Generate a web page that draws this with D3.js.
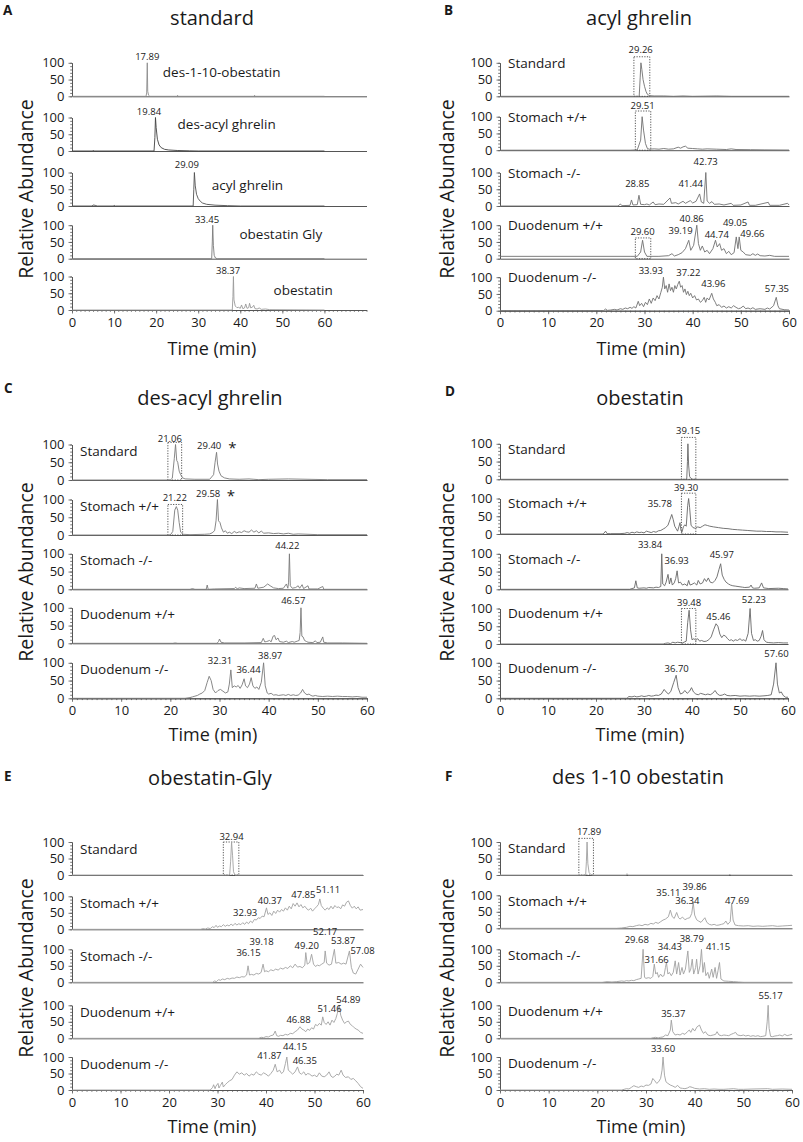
<!DOCTYPE html>
<html>
<head>
<meta charset="utf-8">
<script src="https://cdn.jsdelivr.net/npm/d3@7"></script>
<style>
  body { margin: 0; background: #fff; }
  svg { font-family: "Open Sans", sans-serif; }
</style>
</head>
<body>
<svg id="fig" width="803" height="1142"></svg>
<script>
// ---- text ----
const panelTitles = ["standard", "acyl ghrelin", "des-acyl ghrelin", "obestatin", "obestatin-Gly", "des 1-10 obestatin"];
const sampleNames = ["Standard", "Stomach +/+", "Stomach -/-", "Duodenum +/+", "Duodenum -/-"];
const standardNames = ["des-1-10-obestatin", "des-acyl ghrelin", "acyl ghrelin", "obestatin Gly", "obestatin"];
const xTicks = [0, 10, 20, 30, 40, 50, 60];
const yTicks = [0, 50, 100];

// ---- traces, [time (min), relative abundance] ----
// A: standards
const A_des110 = [[0,0],[17.6,0],[17.75,10],[17.89,100],[18.0,15],[18.2,3],[18.5,0],[25,0],[25.1,3],[25.3,0],[43.3,0],[43.4,3],[43.6,0],[60,0]];
const A_desacyl = [[0,0],[4.9,0],[5,2],[5.2,0],[19.5,0],[19.7,40],[19.84,100],[20.0,70],[20.3,35],[20.7,18],[21.2,10],[22,5],[23,3],[25,1.5],[28,0.5],[30,0],[60,0]];
const A_acyl = [[0,0],[4.8,0],[5,3],[5.5,2],[6,0],[9.8,0],[10,2],[10.3,0],[28.8,0],[28.95,50],[29.09,100],[29.3,60],[29.6,35],[30,22],[30.5,14],[31,9],[32,5],[34,2.5],[37,1],[40,0],[60,0]];
const A_obGly = [[0,0],[33.2,0],[33.35,50],[33.45,100],[33.6,40],[33.8,10],[34.1,2],[34.5,0],[60,0]];
const A_obestatin = [[0,0],[38.1,0],[38.25,40],[38.37,100],[38.5,30],[38.8,12],[39.2,7],[39.6,8],[40,5],[40.3,15],[40.6,4],[41,6],[41.3,18],[41.6,5],[42,7],[42.2,20],[42.5,6],[43,10],[43.2,14],[43.5,4],[44,3],[44.5,6],[45,2],[46,3],[47,1],[60,0]];

// B: acyl ghrelin
const B_std = [[0,0],[28.9,0],[29.1,55],[29.26,100],[29.45,80],[29.7,50],[30,30],[30.3,15],[30.6,6],[31,2],[32,1],[34,1],[36,0],[38,1],[40,0],[45,1],[48,0],[60,0]];
const B_stomWT = [[0,0],[27,0],[28.5,1],[29.2,30],[29.51,100],[29.8,60],[30.2,20],[30.6,5],[31,3],[32,4],[33,3],[34,5],[35,3],[36,4],[37,9],[37.5,6],[38,10],[38.5,12],[39,6],[40,5],[41,4],[42,3],[43,4],[45,3],[47,2],[48,4],[49,2],[52,1.5],[55,1],[60,0.5]];
const B_stomKO = [[0,0],[24.5,0],[25,6],[25.3,1],[27,2],[27.3,18],[27.6,3],[28.5,4],[28.85,32],[29.2,5],[30,4],[30.5,6],[31,3],[31.8,12],[32.2,4],[33,6],[34,5],[35.3,24],[35.6,8],[36.5,10],[37,6],[38,14],[38.5,8],[39.5,16],[40,9],[40.7,14],[41.44,36],[41.8,12],[42.3,8],[42.73,100],[43,15],[43.5,8],[44,13],[44.5,5],[45.5,6],[46.5,3],[48,8],[48.4,2],[50,3],[51.5,12],[51.8,2],[53,2],[55.7,11],[56,2],[58,2],[59.7,8],[60,3]];
const B_duoWT = [[0,7],[27,7],[28.5,7],[29.2,20],[29.6,55],[30,20],[30.5,7],[33,7],[35,9],[35.7,15],[36.2,8],[37,12],[37.8,18],[38.5,30],[39.19,55],[39.6,25],[40.2,40],[40.86,100],[41.2,45],[41.6,25],[42,38],[42.5,20],[43,25],[43.5,15],[44.2,30],[44.74,55],[45.1,35],[45.6,45],[46,25],[46.5,30],[47,15],[47.5,22],[48,12],[48.6,18],[49.05,65],[49.4,30],[49.66,65],[50,25],[50.5,20],[51,12],[52,10],[52.5,15],[53,10],[53.5,14],[54,9],[55,8],[56,10],[57,7],[60,7]];
const B_duoKO = [[0,0],[21.5,0],[21.9,5],[22.3,1],[23,2],[23.8,4],[24.3,2],[25,6],[25.5,4],[26,8],[26.5,6],[27,10],[27.4,7],[27.8,12],[28.2,8],[28.7,28],[29,15],[29.4,22],[29.8,12],[30.2,25],[30.6,18],[31,35],[31.4,22],[31.8,38],[32.2,30],[32.6,45],[33,35],[33.4,55],[33.7,70],[33.93,100],[34.2,65],[34.5,75],[34.8,55],[35.1,80],[35.4,60],[35.7,70],[36,55],[36.3,75],[36.6,65],[36.9,78],[37.22,88],[37.5,70],[37.8,75],[38.1,55],[38.4,65],[38.7,48],[39,58],[39.3,45],[39.6,52],[40,38],[40.4,45],[40.8,32],[41.2,35],[41.6,25],[42,30],[42.4,40],[42.7,25],[43,38],[43.4,32],[43.96,52],[44.3,35],[44.7,25],[45,15],[45.5,18],[46,10],[46.5,14],[47,8],[47.5,12],[48,8],[48.5,15],[49,10],[49.5,6],[50,8],[50.5,14],[51,6],[51.5,8],[52,5],[52.5,9],[53,4],[54,6],[55,4],[55.5,8],[56,5],[56.8,15],[57.35,40],[57.7,15],[58,6],[59,3],[60,2]];

// C: des-acyl ghrelin
const C_std = [[0,0],[20,0],[20.4,5],[20.8,60],[21.06,100],[21.3,55],[21.5,50],[21.8,25],[22.1,15],[22.5,6],[23,3],[25,2],[28,2],[28.8,15],[29.1,50],[29.4,78],[29.6,45],[29.9,25],[30.3,12],[31,6],[32,3],[34,2],[36,3],[37,2],[38,1],[40,2],[44,3],[48,2],[52,1],[60,1]];
const C_stomWT = [[0,0],[20,0],[20.5,10],[20.9,70],[21.22,80],[21.5,70],[21.8,35],[22.1,8],[22.6,2],[24,1],[27,2],[28,3],[28.5,6],[29,12],[29.3,40],[29.58,100],[29.8,40],[30.1,35],[30.4,20],[30.8,8],[31.2,12],[31.6,5],[32,8],[32.5,4],[33,10],[33.5,6],[34,9],[34.5,7],[35,12],[35.5,9],[36,8],[36.5,14],[37,8],[37.5,12],[38,6],[38.5,11],[39,5],[40,6],[41,4],[42,5],[43,3],[44,5],[45,2],[46,3],[48,2],[50,1],[60,1]];
const C_stomKO = [[0,0],[24,0],[24.5,2],[25,0],[27.3,0],[27.5,12],[27.7,0],[29,1],[33,2],[33.3,6],[33.6,1],[34,4],[35,2],[37.2,3],[37.5,15],[37.8,3],[39,6],[39.8,15],[40.3,10],[41,4],[42,2],[43,3],[43.6,15],[43.9,3],[44.05,20],[44.22,100],[44.4,10],[44.8,3],[45.5,5],[46,10],[46.3,3],[46.8,13],[47.1,2],[48,10],[48.2,1],[50,1],[51,8],[51.2,0],[60,0]];
const C_duoWT = [[0,0],[20.5,0],[21,1],[21.5,0],[29.5,0],[29.8,5],[30,12],[30.3,3],[31,1],[35,1],[38.5,2],[38.9,14],[39.2,4],[39.6,5],[40.2,8],[40.5,4],[40.9,20],[41.2,22],[41.5,10],[41.9,15],[42.2,5],[43,3],[43.6,6],[44,2],[44.8,5],[45.2,3],[45.8,6],[46.2,8],[46.4,30],[46.57,100],[46.75,20],[47,18],[47.3,8],[47.7,5],[48,3],[49,2],[49.5,7],[49.8,2],[50.5,3],[51,18],[51.2,3],[52,1],[55,1],[60,0]];
const C_duoKO = [[0,0],[23,0],[24,2],[24.5,4],[25,6],[25.5,8],[26,12],[26.5,15],[27,22],[27.5,45],[27.9,62],[28.3,50],[28.7,25],[29.2,15],[29.7,22],[30.2,25],[30.7,20],[31.2,15],[31.7,18],[32,40],[32.31,80],[32.6,30],[33,35],[33.4,32],[33.8,36],[34.2,28],[34.6,38],[35,55],[35.3,35],[35.7,30],[36.1,40],[36.44,58],[36.8,35],[37.2,28],[37.6,32],[38,25],[38.5,45],[38.97,100],[39.3,35],[39.7,15],[40,12],[40.5,14],[41,9],[41.5,10],[42,8],[43,10],[43.5,8],[44,11],[44.5,8],[45,10],[45.5,8],[46,9],[46.5,15],[46.9,25],[47.3,15],[47.8,10],[48.2,12],[48.6,8],[49,6],[49.5,8],[50,6],[51,5],[52,6],[53,5],[54,6],[55,5],[56,5],[57,4],[58,5],[59,3],[60,3]];

// D: obestatin
const D_std = [[0,0],[38.9,0],[39.05,50],[39.15,100],[39.3,40],[39.5,8],[39.8,2],[40.2,0],[60,0]];
const D_stomWT = [[0,0],[21.5,0],[22,8],[22.3,1],[23,1],[25,1],[26,2],[26.5,4],[27,2],[27.5,5],[28,3],[28.5,6],[29,4],[29.5,5],[30,3],[30.5,8],[31,6],[31.5,4],[32,7],[32.5,5],[33,9],[33.5,10],[34,14],[34.5,18],[35,25],[35.4,40],[35.78,55],[36.1,40],[36.4,22],[36.7,15],[37,8],[37.3,22],[37.5,32],[37.7,10],[37.9,5],[38.2,20],[38.5,26],[38.8,22],[39.1,80],[39.3,100],[39.5,75],[39.8,25],[40.2,18],[40.7,16],[41.2,20],[41.7,18],[42.2,22],[42.7,26],[43.2,24],[43.7,22],[44.5,20],[45.5,18],[46.5,16],[47.5,15],[48.5,13],[49.5,12],[50.5,11],[51.5,10],[52.5,9],[53.5,8],[54.5,8],[55.5,7],[56.5,7],[57.5,6],[58.5,6],[60,5]];
const D_stomKO = [[0,0],[27,0],[27.5,2],[28,4],[28.3,24],[28.6,4],[29,3],[30,4],[30.5,3],[31,5],[32,4],[32.5,6],[33,5],[33.5,8],[33.7,100],[33.9,15],[34.3,10],[34.6,20],[35,42],[35.3,15],[35.6,32],[35.9,12],[36.3,18],[36.6,30],[36.9,52],[37.2,18],[37.6,20],[38,12],[38.5,15],[39,10],[39.3,25],[39.6,12],[40,14],[40.5,18],[41,12],[41.3,25],[41.7,15],[42.2,18],[42.6,30],[43,22],[43.4,32],[43.8,20],[44.3,18],[44.8,25],[45.2,35],[45.6,55],[45.97,72],[46.3,40],[46.7,28],[47.1,20],[47.6,15],[48,12],[48.5,10],[49,9],[50,7],[50.5,6],[51,5],[52,6],[52.3,12],[52.6,4],[53,3],[54,4],[54.5,18],[54.9,4],[56,2],[58,3],[59,2],[60,1]];
const D_duoWT = [[0,0],[34,0],[34.5,2],[35,3],[35.5,1],[36,5],[36.5,3],[37,5],[38,3],[38.8,8],[39.1,60],[39.4,95],[39.7,40],[40,12],[40.4,15],[40.8,10],[41.2,15],[41.6,8],[42,10],[42.5,7],[43,8],[43.5,12],[44,20],[44.5,40],[45,57],[45.4,50],[45.8,28],[46.2,18],[46.6,25],[47,22],[47.4,15],[47.8,10],[48.2,12],[48.6,8],[49,12],[49.5,10],[50,15],[50.4,10],[50.8,12],[51.2,8],[51.7,30],[52.1,100],[52.4,30],[52.8,10],[53.2,12],[53.6,8],[54,10],[54.4,22],[54.7,38],[55,12],[55.5,5],[56,4],[57,3],[58,4],[59,3],[60,3]];
const D_duoKO = [[0,0],[26.5,0],[26.8,5],[27.5,4],[28,6],[28.5,4],[29,5],[29.5,7],[30,5],[30.5,6],[31,8],[31.5,6],[32,7],[32.5,9],[33,8],[33.6,12],[34.2,25],[34.6,18],[35.1,12],[35.6,20],[36.2,45],[36.7,65],[37.1,30],[37.6,12],[38.1,15],[38.5,22],[39,14],[39.5,20],[39.9,30],[40.3,18],[40.8,12],[41.3,10],[41.8,14],[42.3,12],[42.8,10],[43.3,12],[43.8,10],[44.3,14],[44.8,22],[45.3,12],[45.8,8],[46.3,9],[46.8,12],[47.3,8],[48,7],[49,8],[50,6],[51,7],[52,6],[53,7],[54,6],[55,7],[55.8,8],[56.5,10],[57,40],[57.5,100],[57.8,40],[58.2,15],[58.6,18],[59,8],[59.5,3],[60,3]];

// E: obestatin-Gly
const E_std = [[0,0],[32.5,0],[32.7,40],[32.9,100],[33.1,60],[33.3,10],[33.6,0],[60,0]];
const E_stomWT = [[0,0],[26.5,0],[27,2],[27.5,1],[28,4],[28.5,2],[29,8],[29.3,5],[29.7,12],[30,6],[30.4,10],[30.8,8],[31.2,14],[31.6,9],[32,13],[32.4,10],[32.8,16],[33.2,11],[33.6,18],[34,13],[34.4,17],[34.8,14],[35.2,20],[35.6,15],[36,22],[36.4,17],[36.8,25],[37.2,20],[37.6,30],[38,28],[38.4,35],[38.8,33],[39.2,40],[39.6,38],[40.1,65],[40.4,45],[40.8,50],[41.2,42],[41.6,55],[42,48],[42.4,58],[42.8,52],[43.2,60],[43.6,55],[44,65],[44.4,58],[44.8,70],[45.2,62],[45.6,78],[46,70],[46.4,80],[46.8,68],[47.2,75],[47.6,65],[48,70],[48.4,62],[48.8,58],[49.2,64],[49.6,55],[50,62],[50.4,68],[50.8,75],[51.1,92],[51.4,72],[51.8,64],[52.2,58],[52.6,65],[53,60],[53.4,70],[53.8,62],[54.2,72],[54.6,66],[55,68],[55.4,62],[55.8,74],[56.2,70],[56.6,82],[57,86],[57.4,72],[57.8,64],[58.2,70],[58.6,62],[59,68],[59.4,58],[60,60]];
const E_stomKO = [[0,0],[29,0],[29.4,4],[29.8,2],[30.2,8],[30.6,6],[31,10],[31.5,8],[32,12],[32.5,10],[33,13],[33.5,12],[34,16],[34.5,14],[35,17],[35.5,16],[36,22],[36.3,50],[36.6,22],[37,24],[37.5,22],[38,27],[38.5,25],[39,30],[39.4,55],[39.7,32],[40,35],[40.5,32],[41,38],[41.5,35],[42,40],[42.5,37],[43,43],[43.5,40],[44,45],[44.5,42],[45,50],[45.5,44],[46,55],[46.5,46],[47,48],[47.5,44],[48,52],[48.2,90],[48.5,55],[49,60],[49.4,85],[49.8,55],[50.2,48],[50.6,52],[51,50],[51.5,55],[52,60],[52.2,95],[52.5,58],[53,52],[53.5,55],[54.1,100],[54.4,58],[55,60],[55.5,55],[56,58],[56.5,55],[57.2,95],[57.6,45],[58,28],[58.5,25],[59,40],[59.5,55],[60,45]];
const E_duoWT = [[0,0],[38.5,0],[39,3],[39.5,2],[40,5],[40.5,4],[41,8],[41.5,10],[41.9,22],[42.2,8],[42.6,6],[43,9],[43.5,8],[44,12],[44.5,10],[45,15],[45.5,14],[46,20],[46.5,25],[47,35],[47.4,28],[47.8,25],[48.2,20],[48.6,28],[49,24],[49.4,32],[49.8,28],[50.2,42],[50.6,38],[51,45],[51.4,40],[51.7,65],[52,48],[52.4,42],[52.8,50],[53.2,40],[53.6,55],[54,48],[54.4,60],[54.7,75],[55.1,100],[55.4,70],[55.8,55],[56.2,45],[56.6,50],[57,52],[57.4,42],[57.8,38],[58.2,32],[58.6,28],[59,25],[59.5,18],[60,15]];
const E_duoKO = [[0,0],[28.5,0],[29,8],[29.2,16],[29.5,4],[29.7,12],[30.1,20],[30.3,6],[30.6,14],[31,24],[31.2,9],[31.6,16],[32,22],[32.5,28],[33,32],[33.5,45],[34,55],[34.5,48],[35,52],[35.5,45],[36,50],[36.5,42],[37,48],[37.5,45],[38,55],[38.5,48],[39,45],[39.5,52],[40,48],[40.5,42],[41,50],[41.5,60],[41.9,78],[42.3,55],[42.8,60],[43.2,50],[43.6,55],[44,80],[44.3,100],[44.6,60],[45,55],[45.5,48],[46,55],[46.5,70],[46.9,52],[47.3,48],[47.8,55],[48.2,45],[48.6,50],[49,48],[49.5,42],[50,45],[50.5,40],[51,52],[51.5,42],[52,40],[52.5,45],[53,55],[53.4,42],[53.8,38],[54.2,42],[54.6,48],[55,45],[55.5,60],[55.9,45],[56.4,38],[57,40],[57.5,32],[58,35],[58.5,28],[59,20],[59.5,10],[60,5]];

// F: des 1-10 obestatin
const F_std = [[0,0],[17.6,0],[17.75,40],[17.89,100],[18.05,35],[18.3,8],[18.6,2],[19,0],[26,0],[26.1,4],[26.3,0],[47.1,0],[47.2,3],[47.4,0],[60,0]];
const F_stomWT = [[0,0],[24,0],[25,1],[26,3],[26.7,6],[27.3,5],[28,8],[28.6,10],[29.2,8],[29.8,12],[30.4,10],[31,15],[31.5,13],[32,18],[32.5,15],[33,20],[33.5,25],[34,28],[34.6,35],[35,55],[35.4,35],[35.8,30],[36.3,48],[36.7,32],[37,28],[37.5,34],[38,26],[38.5,30],[39,32],[39.4,45],[39.7,78],[40,40],[40.4,26],[40.8,22],[41.3,18],[42.1,32],[42.5,18],[43,12],[43.5,10],[44,12],[44.5,9],[45,10],[45.5,12],[46,14],[46.4,22],[46.8,12],[47.3,20],[47.6,75],[47.9,25],[48.3,10],[49,8],[50,7],[51,8],[52,6],[53,7],[54,6],[55,7],[56,8],[57,6],[58,7],[59,8],[60,9]];
const F_stomKO = [[0,0],[21,0],[22,2],[23,1],[24,2],[25,4],[25.5,3],[26,5],[26.5,4],[27,6],[27.5,5],[28,8],[28.5,10],[29,12],[29.4,100],[29.7,15],[30,12],[30.5,14],[31,12],[31.4,18],[31.7,55],[32,25],[32.3,30],[32.6,15],[33,25],[33.3,18],[33.7,20],[34,45],[34.2,60],[34.5,25],[34.8,30],[35.2,20],[35.6,30],[36,65],[36.3,25],[36.7,60],[37,22],[37.4,45],[37.7,25],[38.1,40],[38.6,95],[38.9,30],[39.2,40],[39.5,70],[39.8,25],[40.2,45],[40.4,70],[40.7,25],[41.1,50],[41.4,100],[41.7,30],[42,60],[42.3,20],[42.7,30],[43,12],[43.5,40],[43.8,15],[44.2,45],[44.5,12],[44.8,35],[45.1,60],[45.4,10],[46,4],[47,3],[48,2],[49,1],[50,0],[60,0]];
const F_duoWT = [[0,0],[31,0],[31.5,2],[32,3],[32.5,1],[33,3],[33.5,4],[34,10],[34.5,8],[35,25],[35.2,55],[35.5,20],[36,10],[36.5,12],[37,10],[37.5,15],[38,12],[38.5,20],[38.9,25],[39.2,18],[39.6,30],[40,22],[40.5,35],[41,40],[41.4,25],[41.8,15],[42.2,20],[42.7,10],[43.2,8],[43.8,10],[44.3,12],[44.6,20],[45,10],[45.5,8],[46,10],[46.5,9],[47,8],[47.5,12],[48,15],[48.4,18],[48.8,10],[49.5,8],[50,10],[50.5,7],[51,9],[51.5,6],[52,8],[52.5,6],[53,8],[53.5,5],[54,6],[54.6,8],[54.9,50],[55.1,100],[55.3,30],[55.6,6],[56,5],[56.5,7],[57,8],[57.5,10],[58,7],[58.5,12],[59,8],[59.5,10],[60,12]];
const F_duoKO = [[0,0],[25,0],[25.5,2],[26,4],[26.5,3],[27,8],[27.5,13],[28,10],[28.5,8],[29,12],[29.5,10],[30,15],[30.5,14],[31,18],[31.4,35],[31.8,28],[32.2,20],[32.6,25],[33,35],[33.3,60],[33.5,100],[33.8,45],[34.1,25],[34.5,20],[35,15],[35.5,12],[36,8],[36.5,14],[37,6],[37.5,5],[38,4],[38.5,6],[39,10],[39.5,8],[40,5],[41,3],[42,4],[43,2],[44,3],[45,2],[46,2],[47,3],[48,4],[49,2],[50,2],[52,3],[55,4],[56,2],[58,3],[60,2]];

// ---- peak annotations: [row, text, time, level] ----
const peaksA = [[0,"17.89",17.9,108],[1,"19.84",18.3,107],[2,"29.09",27.3,112],[3,"33.45",32.1,106],[4,"38.37",37.1,108]];
const peaksB = [[0,"29.26",29.2,129],[1,"29.51",29.6,122],[2,"42.73",42.7,122],[2,"28.85",28.5,57],[2,"41.44",39.6,57],
  [3,"40.86",39.8,110],[3,"39.19",37.5,74],[3,"29.60",29.6,70],[3,"49.05",48.8,98],[3,"44.74",45.0,63],[3,"49.66",52.4,65],
  [4,"33.93",31.3,109],[4,"37.22",39.1,105],[4,"43.96",44.3,71],[4,"57.35",57.5,56]];
const peaksC = [[0,"21.06",19.9,106],[0,"29.40",27.9,86],[1,"21.22",20.9,96],[1,"29.58",27.7,108],[2,"44.22",43.8,113],
  [3,"46.57",45.0,111],[4,"32.31",30.1,96],[4,"36.44",35.9,72],[4,"38.97",40.3,110]];
const starsC = [[0,32.6,86],[1,32.3,108]];
const peaksD = [[0,"39.15",39.2,128],[1,"39.30",38.75,122],[1,"35.78",33.3,77],[2,"33.84",31.25,115],[2,"36.93",36.8,71],[2,"45.97",46.2,89],
  [3,"39.48",39.4,108],[3,"45.46",45.5,68],[3,"52.23",52.9,115],[4,"36.70",36.8,75],[4,"57.60",57.6,117]];
const peaksE = [[0,"32.94",32.9,107],[1,"40.37",40.8,78],[1,"32.93",35.7,39],[1,"47.85",47.7,95],[1,"51.11",52.8,110],
  [2,"39.18",39.1,112],[2,"36.15",36.4,80],[2,"49.20",48.4,102],[2,"52.17",52.2,143],[2,"53.87",55.9,115],[2,"57.08",59.9,87],
  [3,"54.89",57.0,108],[3,"51.46",53.1,81],[3,"46.88",46.7,47],[4,"41.87",40.7,94],[4,"44.15",46.0,120],[4,"46.35",48.0,78]];
const peaksF = [[0,"17.89",18.3,121],[1,"35.11",34.6,98],[1,"39.86",40.0,116],[1,"36.34",38.5,74],[1,"47.69",48.7,74],
  [2,"29.68",28.1,120],[2,"34.43",34.9,97],[2,"31.66",32.2,60],[2,"38.79",39.4,122],[2,"41.15",44.8,99],
  [3,"35.37",35.6,65],[3,"55.17",55.6,118],[4,"33.60",33.5,116]];

// ---- dashed integration windows: [row, start, end, top level] ----
const boxesB = [[0,27.8,31.1,118],[1,28.1,31.3,117],[3,28.1,31.3,62]];
const boxesC = [[0,19.5,22.3,106],[1,19.5,22.5,86]];
const boxesD = [[0,37.8,40.8,118],[1,37.8,40.8,115],[3,37.8,40.8,100]];
const boxesE = [[0,31.2,34.4,100]];
const boxesF = [[0,16.2,19.2,111]];

// ---- layout ----
const panels = [
  {letter:"A", title:panelTitles[0], x0:72, x1:366.5, xmax:70, bases:[96.3,151,206,258.7,310], h:33.5,
   traces:[A_des110,A_desacyl,A_acyl,A_obGly,A_obestatin], colors:["#8c8c8c","#3f3f3f","#505050","#7a7a7a","#9a9a9a"],
   peaks:peaksA, boxes:[], names:standardNames, nameSpots:[[21.6,73],[25.1,82],[33.2,64],[39.8,74],[47.9,60]],
   titleX:212, titleY:25, letterX:3, letterY:15, ylabX:25, ylabY:189, timeX:212, timeY:355},
  {letter:"B", title:panelTitles[1], x0:500, x1:789, xmax:60, bases:[96.3,150.2,206,258.7,310.7], h:33.5,
   traces:[B_std,B_stomWT,B_stomKO,B_duoWT,B_duoKO], colors:Array(5).fill("#707070"),
   peaks:peaksB, boxes:boxesB, names:sampleNames, nameLevel:100,
   titleX:639, titleY:25, letterX:444, letterY:15, ylabX:446, ylabY:189, timeX:641, timeY:355},
  {letter:"C", title:panelTitles[2], x0:72, x1:367, xmax:60, bases:[480,535,589.3,643.3,698.3], h:35.5,
   traces:[C_std,C_stomWT,C_stomKO,C_duoWT,C_duoKO], colors:Array(5).fill("#7a7a7a"),
   peaks:peaksC, boxes:boxesC, names:sampleNames, nameLevel:82, stars:starsC,
   titleX:210, titleY:405, letterX:4, letterY:393, ylabX:25, ylabY:572, timeX:213, timeY:741},
  {letter:"D", title:panelTitles[3], x0:500, x1:788, xmax:60, bases:[479.3,534,589.3,644,698.3], h:35.5,
   traces:[D_std,D_stomWT,D_stomKO,D_duoWT,D_duoKO], colors:Array(5).fill("#666666"),
   peaks:peaksD, boxes:boxesD, names:sampleNames, nameLevel:86,
   titleX:640, titleY:405, letterX:445, letterY:396, ylabX:446, ylabY:572, timeX:640, timeY:741},
  {letter:"E", title:panelTitles[4], x0:72, x1:363, xmax:60, bases:[875,929.3,982.3,1038.3,1090], h:33,
   traces:[E_std,E_stomWT,E_stomKO,E_duoWT,E_duoKO], colors:Array(5).fill("#a2a2a2"),
   peaks:peaksE, boxes:boxesE, names:sampleNames, nameLevel:80,
   titleX:210, titleY:785, letterX:4, letterY:781, ylabX:25, ylabY:968, timeX:212, timeY:1133},
  {letter:"F", title:panelTitles[5], x0:500, x1:792, xmax:60, bases:[875,928.3,982.3,1038.3,1090], h:33,
   traces:[F_std,F_stomWT,F_stomKO,F_duoWT,F_duoKO], colors:Array(5).fill("#a0a0a0"),
   peaks:peaksF, boxes:boxesF, names:sampleNames, nameLevel:82,
   titleX:638, titleY:784, letterX:445, letterY:781, ylabX:446, ylabY:968, timeX:641, timeY:1133}
];

const svg = d3.select("#fig");
const axisColor = "#555";
const textColor = "#1a1a1a";

function styleAxis(g) {
  g.selectAll("path").attr("stroke", axisColor).attr("stroke-width", 1);
  g.selectAll("line").attr("stroke", axisColor).attr("stroke-width", 0.8);
  g.selectAll("text").attr("fill", textColor).style("font-size", "13px").style("font-family", "Open Sans, sans-serif");
}

panels.forEach(p => {
  const g = svg.append("g");
  const x = d3.scaleLinear().domain([0, p.xmax]).range([p.x0, p.x1]);

  // panel letter and title
  g.append("text").attr("x", p.letterX).attr("y", p.letterY)
    .style("font-size", "13.5px").style("font-weight", "bold").attr("fill", textColor).text(p.letter);
  g.append("text").attr("x", p.titleX).attr("y", p.titleY).attr("text-anchor", "middle")
    .style("font-size", "20px").attr("fill", textColor).text(p.title);

  p.bases.forEach((base, i) => {
    const y = d3.scaleLinear().domain([0, 100]).range([base, base - p.h]);
    const row = g.append("g");

    // y axis with minor ticks
    row.append("g").attr("transform", `translate(${p.x0},0)`)
      .call(d3.axisLeft(y).tickValues(d3.range(0, 101, 10)).tickSize(1.8).tickSizeOuter(0).tickFormat(""))
      .call(styleAxis);
    row.append("g").attr("transform", `translate(${p.x0},0)`)
      .call(d3.axisLeft(y).tickValues(yTicks).tickSize(3.5).tickSizeOuter(0).tickPadding(4))
      .call(styleAxis);

    // x baseline / axis
    const last = i === p.bases.length - 1;
    if (last) {
      row.append("g").attr("transform", `translate(0,${base})`)
        .call(d3.axisBottom(x).tickValues(d3.range(0, p.xmax + 1, 1)).tickSize(1.8).tickSizeOuter(0).tickFormat(""))
        .call(styleAxis);
      row.append("g").attr("transform", `translate(0,${base})`)
        .call(d3.axisBottom(x).tickValues(xTicks).tickSize(3.5).tickSizeOuter(0).tickPadding(4))
        .call(styleAxis);
    } else {
      row.append("g").attr("transform", `translate(0,${base})`)
        .call(d3.axisBottom(x).tickValues([]).tickSizeOuter(0))
        .call(styleAxis);
    }

    // integration boxes
    p.boxes.filter(b => b[0] === i).forEach(b => {
      row.append("rect")
        .attr("x", x(b[1])).attr("y", y(b[3]))
        .attr("width", x(b[2]) - x(b[1])).attr("height", y(0) - y(b[3]))
        .attr("fill", "none").attr("stroke", "#444").attr("stroke-width", 0.9)
        .attr("stroke-dasharray", "1.2,1.4");
    });

    // trace
    row.append("path").datum(p.traces[i])
      .attr("d", d3.line().x(d => x(d[0])).y(d => y(d[1])))
      .attr("fill", "none").attr("stroke", p.colors[i]).attr("stroke-width", 0.9)
      .attr("stroke-linejoin", "round");

    // sample / compound name
    const nx = p.nameSpots ? x(p.nameSpots[i][0]) : p.x0 + 8;
    const ny = p.nameSpots ? y(p.nameSpots[i][1]) : y(p.nameLevel);
    row.append("text").attr("x", nx).attr("y", ny).attr("dominant-baseline", "central")
      .style("font-size", "13.5px").attr("fill", textColor).text(p.names[i]);

    // peak labels
    p.peaks.filter(k => k[0] === i).forEach(k => {
      row.append("text").attr("x", x(k[2])).attr("y", y(k[3])).attr("text-anchor", "middle")
        .style("font-size", "9.5px").attr("fill", textColor).text(k[1]);
    });
    (p.stars || []).filter(s => s[0] === i).forEach(s => {
      row.append("text").attr("x", x(s[1])).attr("y", y(s[2]) + 4).attr("text-anchor", "middle")
        .style("font-size", "15px").attr("fill", textColor).text("*");
    });
  });

  // axis titles
  g.append("text").attr("x", p.timeX).attr("y", p.timeY).attr("text-anchor", "middle")
    .style("font-size", "18px").attr("fill", textColor).text("Time (min)");
  g.append("text").attr("transform", `translate(${p.ylabX},${p.ylabY}) rotate(-90)`)
    .attr("text-anchor", "middle").attr("dominant-baseline", "central")
    .style("font-size", "19.5px").attr("fill", textColor).text("Relative Abundance");
});
</script>
</body>
</html>
